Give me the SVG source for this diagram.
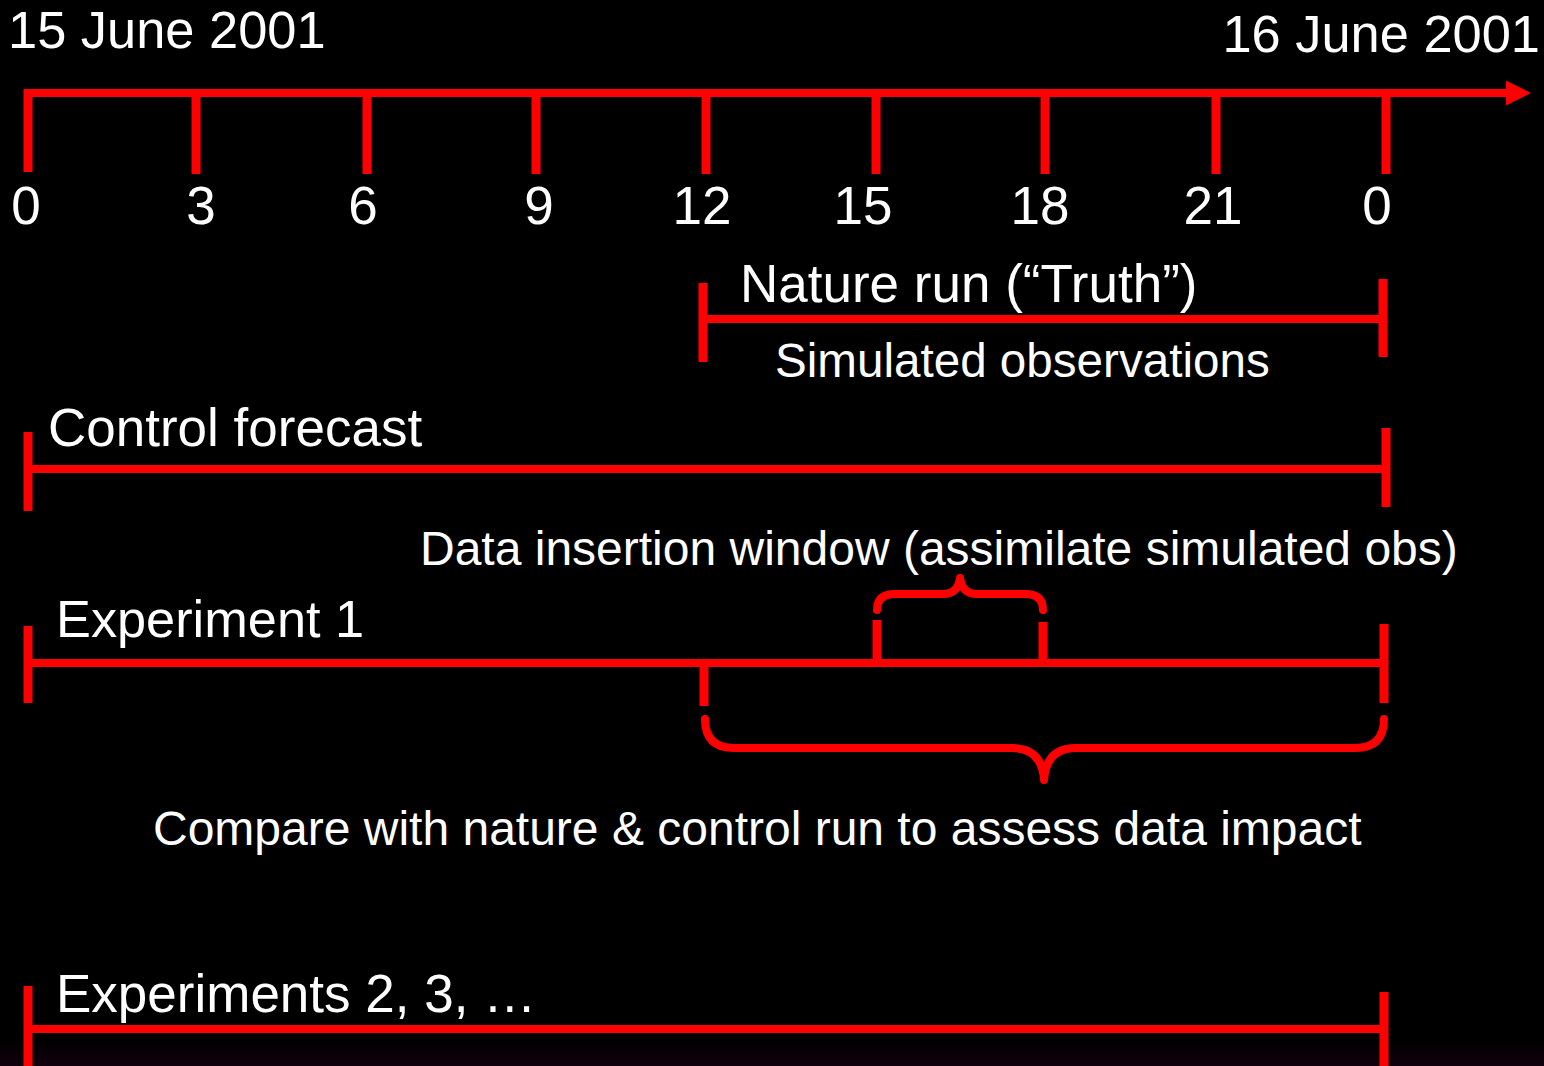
<svg xmlns="http://www.w3.org/2000/svg" width="1544" height="1066" viewBox="0 0 1544 1066">
  <defs>
    <linearGradient id="bgfade" x1="0" y1="0" x2="0" y2="1">
      <stop offset="0" stop-color="#000000"/>
      <stop offset="1" stop-color="#12000e"/>
    </linearGradient>
    <marker id="arrow" viewBox="0 0 10 10" refX="0" refY="5" markerUnits="userSpaceOnUse" markerWidth="26" markerHeight="25" orient="auto">
      <path d="M0,0 L10,5 L0,10 Z" fill="#ff0000"/>
    </marker>
  </defs>
  <style>
    .bar { stroke: #ff0000; stroke-width: 8; fill: none; }
    .tick { stroke: #ff0000; stroke-width: 9; fill: none; }
    .brace { stroke: #ff0000; stroke-width: 8; fill: none; stroke-linecap: round; stroke-linejoin: round; }
    .big { font-family: "Liberation Sans", Arial, sans-serif; font-size: 53px; fill: #ffffff; }
    .mid { font-family: "Liberation Sans", Arial, sans-serif; font-size: 48px; fill: #ffffff; }
    .hour { font-family: "Liberation Sans", Arial, sans-serif; font-size: 53px; fill: #ffffff; text-anchor: middle; }
  </style>

  <rect x="0" y="0" width="1544" height="1066" fill="#000000"/>
  <rect x="0" y="1040" width="1544" height="26" fill="url(#bgfade)"/>

  <!-- time axis -->
  <g id="axis">
    <text class="big" x="8" y="48" style="font-size:52.4px">15 June 2001</text>
    <text class="big" x="1540" y="52" style="font-size:52.4px" text-anchor="end">16 June 2001</text>
    <line class="bar" x1="24" y1="93" x2="1506" y2="93" marker-end="url(#arrow)"/>
    <line class="tick" x1="28" y1="89" x2="28" y2="172"/>
    <line class="tick" x1="196" y1="93" x2="196" y2="174"/>
    <line class="tick" x1="367" y1="93" x2="367" y2="174"/>
    <line class="tick" x1="536" y1="93" x2="536" y2="174"/>
    <line class="tick" x1="706" y1="93" x2="706" y2="174"/>
    <line class="tick" x1="876" y1="93" x2="876" y2="174"/>
    <line class="tick" x1="1045" y1="93" x2="1045" y2="174"/>
    <line class="tick" x1="1216" y1="93" x2="1216" y2="174"/>
    <line class="tick" x1="1386" y1="93" x2="1386" y2="174"/>
    <text class="hour" x="26" y="224">0</text>
    <text class="hour" x="201" y="224">3</text>
    <text class="hour" x="363" y="224">6</text>
    <text class="hour" x="539" y="224">9</text>
    <text class="hour" x="702" y="224">12</text>
    <text class="hour" x="863" y="224">15</text>
    <text class="hour" x="1040" y="224">18</text>
    <text class="hour" x="1213" y="224">21</text>
    <text class="hour" x="1377" y="224">0</text>
  </g>

  <!-- nature run -->
  <g id="nature-run">
    <text class="big" x="740" y="302">Nature run (“Truth”)</text>
    <line class="bar" x1="703" y1="319" x2="1383" y2="319"/>
    <line class="tick" x1="703" y1="283" x2="703" y2="362"/>
    <line class="tick" x1="1383" y1="279" x2="1383" y2="357"/>
    <text class="mid" x="775" y="377" style="font-size:47.6px">Simulated observations</text>
  </g>

  <!-- control forecast -->
  <g id="control-forecast">
    <text class="big" x="48" y="446">Control forecast</text>
    <line class="bar" x1="28" y1="469" x2="1386" y2="469"/>
    <line class="tick" x1="28" y1="432" x2="28" y2="511"/>
    <line class="tick" x1="1386" y1="428" x2="1386" y2="507"/>
  </g>

  <!-- experiment 1 -->
  <g id="experiment-1">
    <text class="mid" x="420" y="565">Data insertion window (assimilate simulated obs)</text>
    <text class="big" x="56" y="637" style="font-size:52.3px">Experiment 1</text>
    <line class="bar" x1="28" y1="663" x2="1384" y2="663"/>
    <line class="tick" x1="28" y1="626" x2="28" y2="703"/>
    <line class="tick" x1="1384" y1="624" x2="1384" y2="703"/>
    <line class="tick" x1="704" y1="663" x2="704" y2="706"/>
    <line class="tick" x1="877" y1="620" x2="877" y2="663"/>
    <line class="tick" x1="1043" y1="622" x2="1043" y2="663"/>
    <text class="mid" x="153" y="845">Compare with nature &amp; control run to assess data impact</text>
  </g>

  <!-- experiments 2, 3, ... -->
  <g id="experiments-more">
    <text class="big" x="56" y="1012">Experiments 2, 3, …</text>
    <line class="bar" x1="28" y1="1029" x2="1384" y2="1029"/>
    <line class="tick" x1="28" y1="986" x2="28" y2="1066"/>
    <line class="tick" x1="1384" y1="992" x2="1384" y2="1066"/>
  </g>

  <!-- braces -->
  <g id="connectors">
    <path class="brace" d="M877,610 Q877,594 895,594 L943,594 Q958,594 960,578 Q962,594 977,594 L1025,594 Q1043,594 1043,610"/>
    <path class="brace" d="M705,719 Q705,748 734,748 L1012,748 Q1042,748 1044,780 Q1046,748 1076,748 L1355,748 Q1384,748 1384,719"/>
  </g>
</svg>
